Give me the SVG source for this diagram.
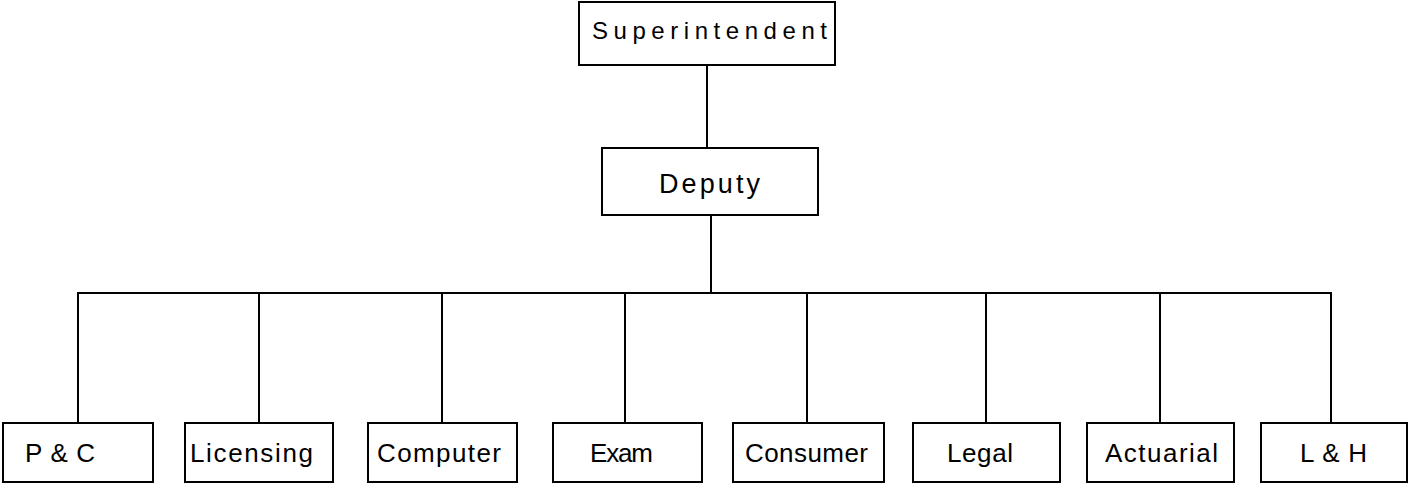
<svg xmlns="http://www.w3.org/2000/svg" width="1410" height="486" viewBox="0 0 1410 486">
<style>
rect{fill:#fff;stroke:#000;stroke-width:2}
.c line{stroke:#000;stroke-width:2}
text{font-family:"Liberation Sans",Arial,sans-serif;fill:#000}
.b{font-size:26px}
</style>
<rect x="0" y="0" width="1410" height="486" style="stroke:none"/>
<g class="c" id="connectors">
<line x1="707" y1="65" x2="707" y2="148"/>
<line x1="711" y1="215" x2="711" y2="293"/>
<line x1="77" y1="293" x2="1332" y2="293"/>
<line x1="78" y1="293" x2="78" y2="423"/>
<line x1="259" y1="293" x2="259" y2="423"/>
<line x1="442" y1="293" x2="442" y2="423"/>
<line x1="625" y1="293" x2="625" y2="423"/>
<line x1="807" y1="293" x2="807" y2="423"/>
<line x1="986" y1="293" x2="986" y2="423"/>
<line x1="1160" y1="293" x2="1160" y2="423"/>
<line x1="1331" y1="293" x2="1331" y2="423"/>
</g>
<g id="superintendent"><rect x="579" y="2" width="256" height="63"/><text x="592" y="39" font-size="24" textLength="235" lengthAdjust="spacing">Superintendent</text></g>
<g id="deputy"><rect x="602" y="148" width="216" height="67"/><text x="659" y="193" font-size="27" textLength="101" lengthAdjust="spacing">Deputy</text></g>
<g id="pc"><rect x="3" y="423" width="150" height="59"/><text class="b" x="25" y="462" textLength="70" lengthAdjust="spacing">P &amp; C</text></g>
<g id="licensing"><rect x="185" y="423" width="148" height="59"/><text class="b" x="190" y="462" textLength="123" lengthAdjust="spacing">Licensing</text></g>
<g id="computer"><rect x="368" y="423" width="149" height="59"/><text class="b" x="377" y="462" textLength="124" lengthAdjust="spacing">Computer</text></g>
<g id="exam"><rect x="553" y="423" width="149" height="59"/><text class="b" x="590" y="462" textLength="63" lengthAdjust="spacing">Exam</text></g>
<g id="consumer"><rect x="733" y="423" width="151" height="59"/><text class="b" x="745" y="462" textLength="123" lengthAdjust="spacing">Consumer</text></g>
<g id="legal"><rect x="913" y="423" width="147" height="59"/><text class="b" x="947" y="462" textLength="66" lengthAdjust="spacing">Legal</text></g>
<g id="actuarial"><rect x="1087" y="423" width="147" height="59"/><text class="b" x="1105" y="462" textLength="113" lengthAdjust="spacing">Actuarial</text></g>
<g id="lh"><rect x="1261" y="423" width="146" height="59"/><text class="b" x="1300" y="462" textLength="67" lengthAdjust="spacing">L &amp; H</text></g>
</svg>
